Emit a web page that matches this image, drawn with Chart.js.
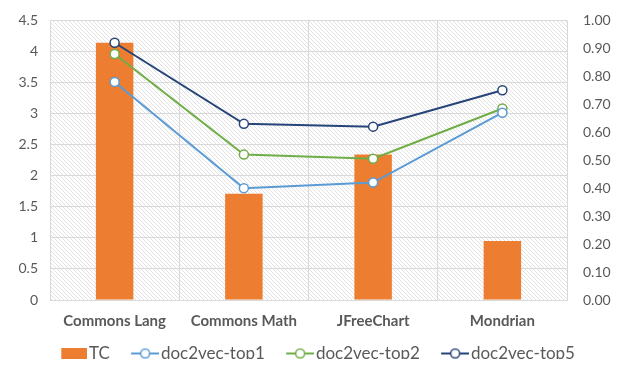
<!DOCTYPE html>
<html>
<head>
<meta charset="utf-8">
<script src="https://cdn.jsdelivr.net/npm/chart.js@4/dist/chart.umd.min.js"></script>
<style>
  html, body { margin: 0; padding: 0; background: #fff; }
  #wrap { width: 635px; height: 366px; }
</style>
</head>
<body>
<div id="wrap"><canvas id="c" width="635" height="366"></canvas></div>
<script>
// Projects compared
const categories = ['Commons Lang', 'Commons Math', 'JFreeChart', 'Mondrian'];
// TC (left axis)
const tcValues = [4.14, 1.71, 2.34, 0.95];
// doc2vec precision (right axis)
const top1Values = [0.78, 0.40, 0.42, 0.67];
const top2Values = [0.88, 0.52, 0.505, 0.685];
const top5Values = [0.92, 0.63, 0.62, 0.75];
// Axis ticks
const leftTicks = [0, 0.5, 1, 1.5, 2, 2.5, 3, 3.5, 4, 4.5];
const rightTicks = [0, 0.1, 0.2, 0.3, 0.4, 0.5, 0.6, 0.7, 0.8, 0.9, 1.0];

const ORANGE = '#ed7d31', BLUE = '#5b9bd5', GREEN = '#70ad47', NAVY = '#264478';
const TEXT = '#595959', GRID = '#d9d9d9';
const FONT = 'Lato, "Open Sans", sans-serif';

// diagonal hatch used to fill the plotting area
function hatch() {
  const t = document.createElement('canvas');
  t.width = 4; t.height = 4;
  const g = t.getContext('2d');
  g.fillStyle = '#ffffff'; g.fillRect(0, 0, 4, 4);
  g.strokeStyle = '#e2e2e2'; g.lineWidth = 1;
  g.beginPath();
  g.moveTo(0, 0); g.lineTo(4, 4);
  g.moveTo(-1, 3); g.lineTo(1, 5);
  g.moveTo(3, -1); g.lineTo(5, 1);
  g.stroke();
  return t;
}

// legend swatches (drawn flush right so the label follows closely)
const ICON_W = 34;
function rectIcon(color) {
  const c = document.createElement('canvas');
  c.width = ICON_W; c.height = 11;
  const g = c.getContext('2d');
  g.fillStyle = color; g.fillRect(ICON_W - 26, 0, 26, 11);
  return c;
}
function lineIcon(color) {
  const c = document.createElement('canvas');
  c.width = ICON_W; c.height = 12;
  const g = c.getContext('2d');
  g.strokeStyle = color; g.lineWidth = 2;
  g.beginPath(); g.moveTo(ICON_W - 28, 6); g.lineTo(ICON_W, 6); g.stroke();
  g.beginPath(); g.arc(ICON_W - 14, 6, 4.5, 0, Math.PI * 2);
  g.fillStyle = '#fff'; g.fill();
  g.lineWidth = 1.5; g.stroke();
  return c;
}

const plotBackground = {
  id: 'plotBackground',
  beforeDraw(chart) {
    const { ctx, chartArea: a } = chart;
    ctx.save();
    ctx.fillStyle = ctx.createPattern(hatch(), 'repeat');
    ctx.fillRect(a.left, a.top, a.right - a.left, a.bottom - a.top);
    ctx.restore();
  }
};

// fixed-height legend band, with the row set a little below the axis labels
const LEGEND_H = 36;
const legendPlacement = {
  id: 'legendPlacement',
  afterInit(chart) {
    const lg = chart.legend;
    const fit = lg.fit.bind(lg);
    lg.fit = function () { fit(); this.height = LEGEND_H; };
  },
  afterLayout(chart) {
    const lg = chart.legend;
    lg.top = chart.chartArea.bottom + 23;
    lg.bottom = lg.top + LEGEND_H;
  }
};

function lineSet(label, data, color) {
  return {
    type: 'line', label, data, yAxisID: 'y1',
    borderColor: color, borderWidth: 2,
    pointRadius: 4.5, pointBorderWidth: 1.5,
    pointBackgroundColor: '#ffffff', pointBorderColor: color,
    pointStyle: 'circle', tension: 0, order: 0,
    legendIcon: lineIcon(color)
  };
}

new Chart(document.getElementById('c'), {
  data: {
    labels: categories,
    datasets: [
      { type: 'bar', label: 'TC', data: tcValues, yAxisID: 'y',
        backgroundColor: ORANGE, barPercentage: 0.29, categoryPercentage: 1,
        order: 1, legendIcon: rectIcon(ORANGE) },
      lineSet('doc2vec-top1', top1Values, BLUE),
      lineSet('doc2vec-top2', top2Values, GREEN),
      lineSet('doc2vec-top5', top5Values, NAVY)
    ]
  },
  options: {
    responsive: false,
    animation: false,
    layout: { padding: { top: 15, left: 0, right: 0, bottom: 0 } },
    plugins: {
      tooltip: { enabled: false },
      legend: {
        position: 'bottom',
        align: 'center',
        labels: {
          usePointStyle: true,
          pointStyleWidth: 20.5,
          color: TEXT,
          font: { family: FONT, size: 17 },
          padding: 22,
          generateLabels(chart) {
            return chart.data.datasets.map((d, i) => ({
              text: d.label,
              pointStyle: d.legendIcon,
              fontColor: TEXT,
              datasetIndex: i,
              hidden: false,
              lineWidth: 0
            }));
          }
        }
      }
    },
    scales: {
      x: {
        offset: true,
        afterFit(s) { s.height = 30; },
        grid: { offset: true, color: GRID, drawTicks: false },
        border: { color: GRID },
        ticks: { color: TEXT, font: { family: FONT, size: 15, weight: 'bold' }, padding: 12 }
      },
      y: {
        position: 'left',
        min: 0, max: 4.5,
        afterBuildTicks(s) { s.ticks = leftTicks.map(v => ({ value: v })); },
        afterFit(s) { s.width = 50; },
        grid: { color: GRID, drawTicks: false },
        border: { color: GRID },
        ticks: { color: TEXT, font: { family: FONT, size: 14 }, padding: 12,
                 callback: v => String(v) }
      },
      y1: {
        position: 'right',
        min: 0, max: 1,
        afterBuildTicks(s) { s.ticks = rightTicks.map(v => ({ value: v })); },
        afterFit(s) { s.width = 68; },
        grid: { display: false },
        border: { display: false },
        ticks: { color: TEXT, font: { family: FONT, size: 14 }, padding: 8,
                 callback: v => v.toFixed(2) }
      }
    }
  },
  plugins: [plotBackground, legendPlacement]
});
</script>
</body>
</html>
